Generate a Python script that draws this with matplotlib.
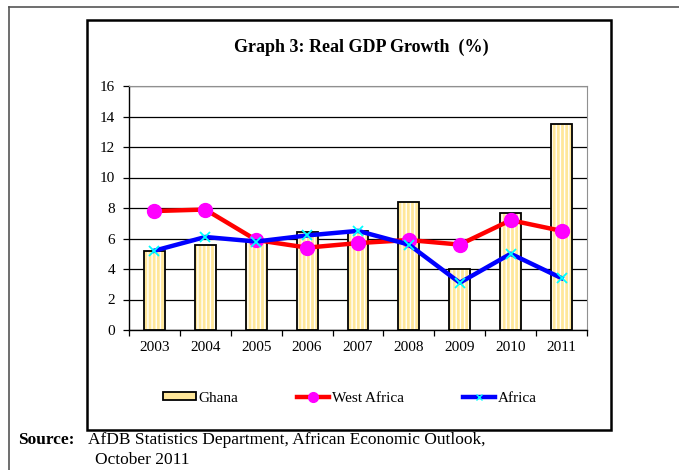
import numpy as np
import matplotlib
matplotlib.use('Agg')
import matplotlib.pyplot as plt
from matplotlib.patches import Rectangle, Patch
from matplotlib.lines import Line2D

plt.rcParams['font.family'] = 'Liberation Serif'
plt.rcParams['hatch.linewidth'] = 1.0

years = ['2003', '2004', '2005', '2006', '2007', '2008', '2009', '2010', '2011']
ghana = [5.2, 5.6, 5.9, 6.4, 6.5, 8.4, 4.0, 7.7, 13.5]
west_africa = [7.8, 7.9, 5.9, 5.4, 5.7, 5.9, 5.6, 7.2, 6.5]
africa = [5.2, 6.1, 5.8, 6.2, 6.5, 5.6, 3.1, 5.0, 3.4]

W, H = 679, 470
fig = plt.figure(figsize=(W / 100, H / 100), dpi=100)

# page frame (top and left edges only) and chart box
fig.add_artist(Line2D([9 / W, 1.0], [1 - 7 / H, 1 - 7 / H], color='#555555', lw=1.2))
fig.add_artist(Line2D([9 / W, 9 / W], [0, 1 - 7 / H], color='#555555', lw=1.2))
fig.add_artist(Rectangle((87 / W, 1 - 430 / H), (611 - 87) / W, (430 - 20) / H,
                         transform=fig.transFigure, fill=False, ec='black', lw=1.8))

ax = fig.add_axes([129 / W, 1 - 330 / H, (587 - 129) / W, (330 - 86) / H])
x = np.arange(len(years))

# striped bars: yellow fill with white vertical hatching, then black outline
ax.bar(x, ghana, width=0.41, color='#FFE79A', edgecolor='white', hatch='||||', lw=0, zorder=2)
ax.bar(x, ghana, width=0.41, fill=False, edgecolor='black', lw=1.3, zorder=3)

ax.plot(x, west_africa, color='red', lw=3.2, marker='o', ms=10,
        mfc='#FF00FF', mec='#FF00FF', zorder=4)
ax.plot(x, africa, color='#0000FF', lw=3.2, marker='x', ms=7,
        mec='#00FFFF', mew=1.3, zorder=5)

ax.set_xlim(-0.5, len(years) - 0.5)
ax.set_ylim(0, 16)
ax.set_yticks(range(0, 17, 2))
ax.yaxis.grid(True, color='black', lw=0.9)
ax.set_axisbelow(True)

ax.set_xticks(x)
ax.set_xticklabels(years)
ax.set_xticks(np.arange(-0.5, len(years), 1), minor=True)
ax.tick_params(axis='x', which='major', length=0, pad=8, labelsize=11)
ax.tick_params(axis='x', which='minor', length=4, width=0.9, direction='out')
ax.tick_params(axis='y', length=4, width=0.9, direction='out', labelsize=11, pad=6)

for side in ['top', 'right']:
    ax.spines[side].set_color('#909090')
for side in ['left', 'bottom']:
    ax.spines[side].set_color('black')
    ax.spines[side].set_linewidth(1.0)

fig.text(361 / W, 1 - 47 / H, 'Graph 3: Real GDP Growth  (%)', ha='center', va='center',
         fontsize=13, fontweight='bold')

handles = [Patch(facecolor='#FFE79A', edgecolor='black', lw=1.3),
           Line2D([], [], color='red', lw=3.2, marker='o', ms=7, mfc='#FF00FF', mec='#FF00FF'),
           Line2D([], [], color='#0000FF', lw=3.2, marker='x', ms=5, mec='#00FFFF')]
fig.legend(handles, ['Ghana', 'West Africa', 'Africa'], ncol=3, frameon=False,
           loc='center left', bbox_to_anchor=(149 / W, 1 - 398 / H), fontsize=11,
           handlelength=2.15, handleheight=0.45, handletextpad=0.15, columnspacing=3.85)

fig.text(18 / W, 1 - 440 / H, 'Source:', fontsize=12.5, fontweight='bold', va='center')
fig.text(88 / W, 1 - 440 / H, 'AfDB Statistics Department, African Economic Outlook,',
         fontsize=12.5, va='center')
fig.text(95 / W, 1 - 460 / H, 'October 2011', fontsize=12.5, va='center')

fig.savefig('out.png', dpi=100)
